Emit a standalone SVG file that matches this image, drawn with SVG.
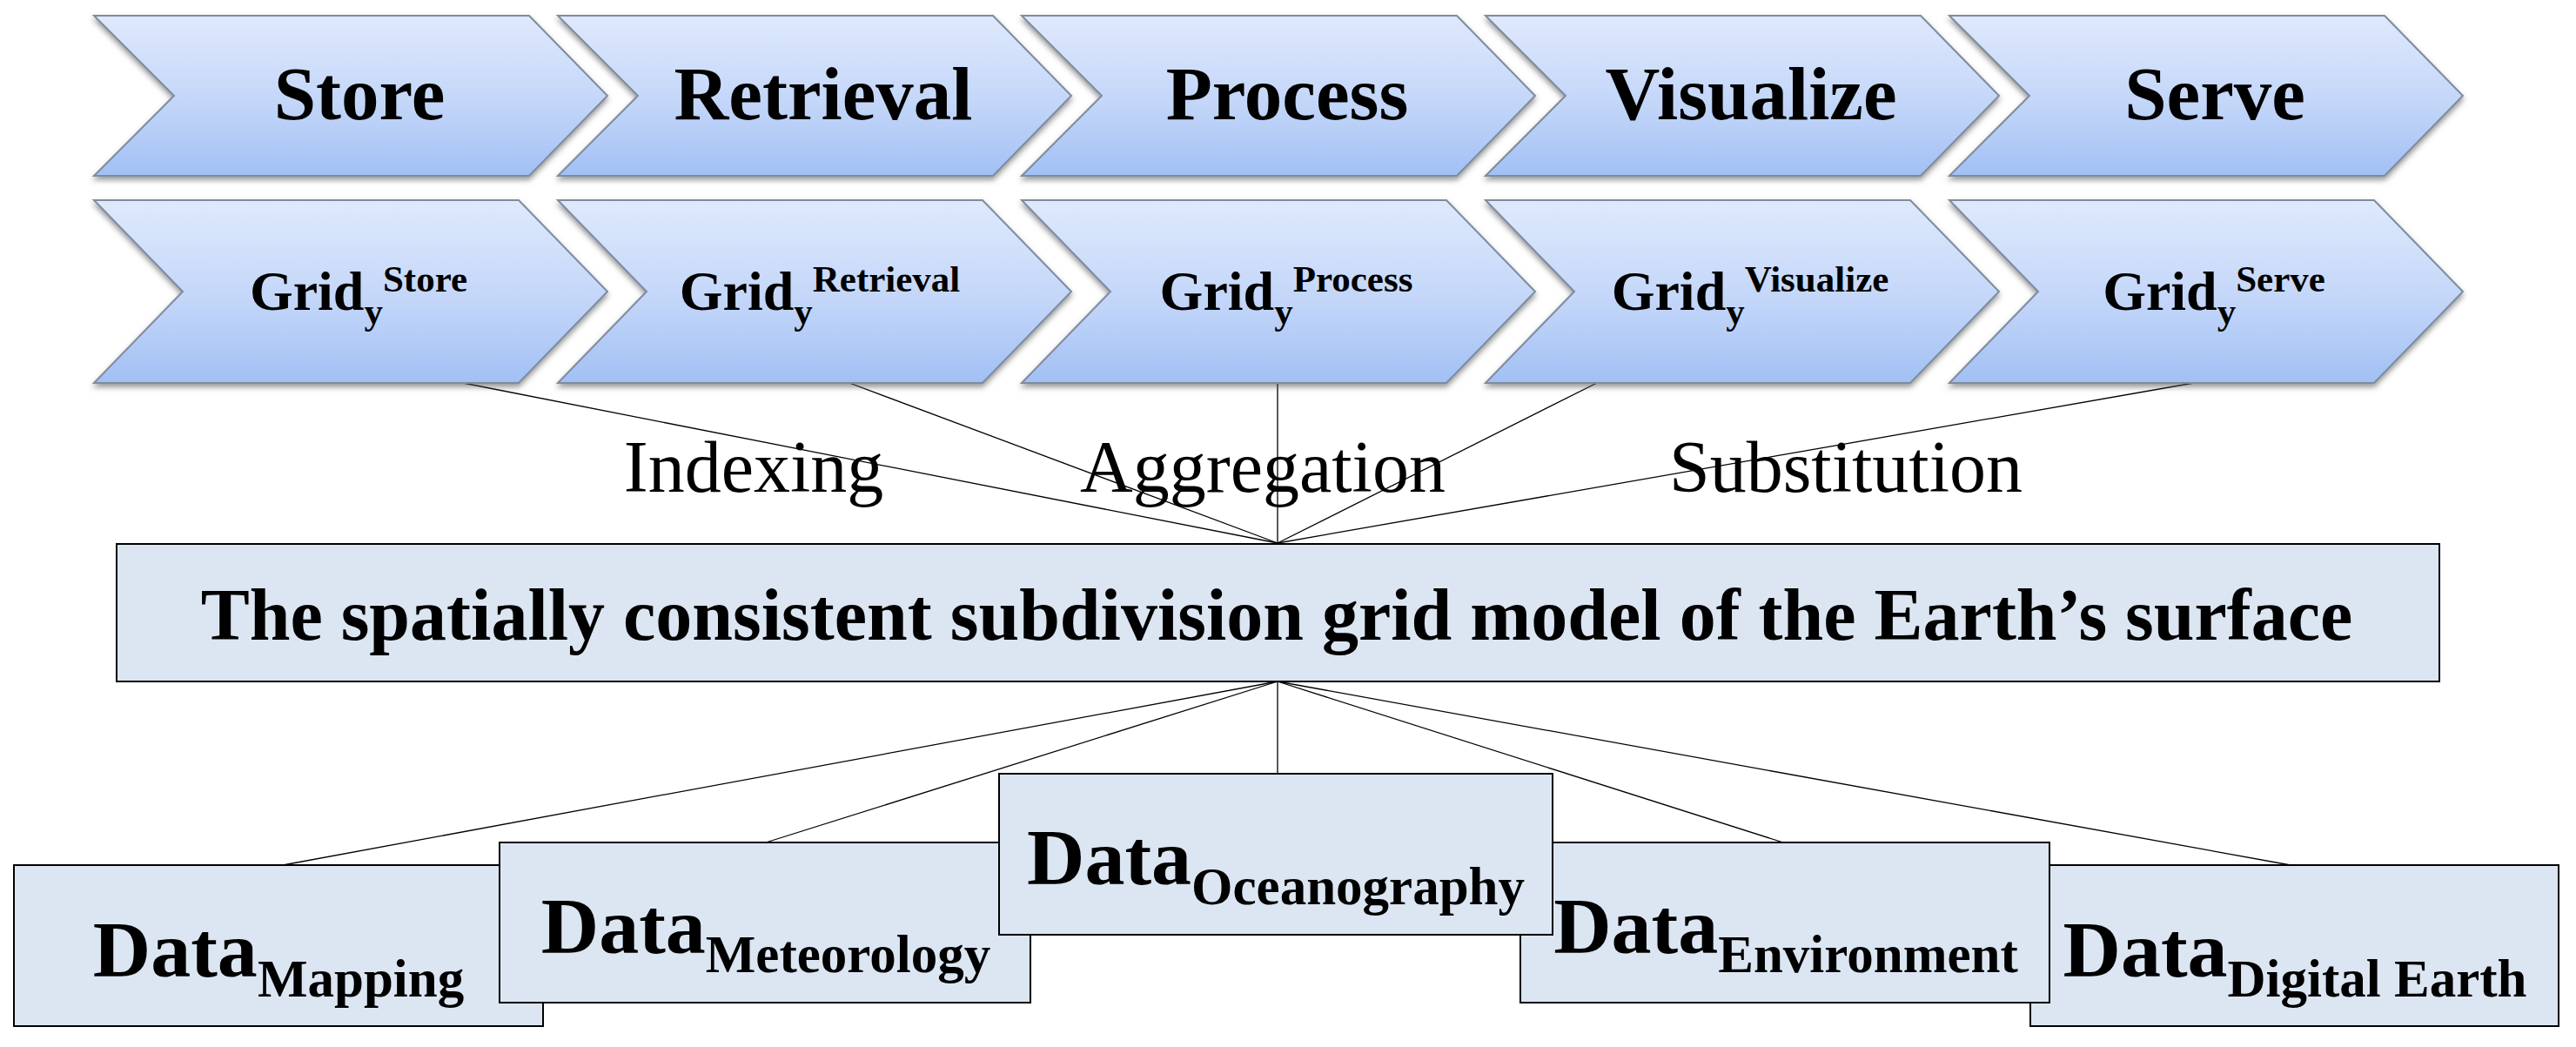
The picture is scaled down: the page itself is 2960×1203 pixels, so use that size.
<svg xmlns="http://www.w3.org/2000/svg" width="2960" height="1203" viewBox="0 0 2960 1203">
<defs>
<linearGradient id="chevFill" x1="0" y1="0" x2="0" y2="1">
<stop offset="0" stop-color="#DFE9FC"/>
<stop offset="0.55" stop-color="#C3D6F9"/>
<stop offset="1" stop-color="#A2C0F4"/>
</linearGradient>
<filter id="shadow" x="-5%" y="-10%" width="110%" height="130%">
<feDropShadow dx="0" dy="4" stdDeviation="3" flood-color="#555" flood-opacity="0.6"/>
</filter>
<style>
.chev{fill:url(#chevFill);stroke:#7E8CA0;stroke-width:2;filter:url(#shadow);}
.box{fill:#DCE6F2;stroke:#000;stroke-width:2;}
.conn line{stroke:#000;stroke-width:1.3;}
text{font-family:"Liberation Serif","Times New Roman",serif;fill:#000;}
.title{font-size:87px;font-weight:bold;text-anchor:middle;}
.grid{font-size:64px;font-weight:bold;text-anchor:middle;}
.sm{font-size:43px;}
.lbl{font-size:84px;text-anchor:middle;}
.main{font-size:84px;font-weight:bold;text-anchor:middle;}
.data{font-size:92px;font-weight:bold;text-anchor:middle;}
.sub{font-size:61px;}
</style>
</defs>
<rect width="2960" height="1203" fill="#fff"/>

<g id="connectors" class="conn">
<line x1="532" y1="440" x2="1468" y2="624"/>
<line x1="976" y1="440" x2="1468" y2="624"/>
<line x1="1468" y1="440" x2="1468" y2="624"/>
<line x1="1835" y1="440" x2="1468" y2="624"/>
<line x1="2521" y1="440" x2="1468" y2="624"/>
<line x1="1468" y1="783" x2="325" y2="994"/>
<line x1="1468" y1="783" x2="880" y2="968"/>
<line x1="1468" y1="783" x2="1468" y2="889"/>
<line x1="1468" y1="783" x2="2049" y2="968"/>
<line x1="1468" y1="783" x2="2632" y2="994"/>
</g>

<g id="stage-store">
<polygon class="chev" points="108,18 608,18 698,110 608,202 108,202 200,110"/>
<text class="title" x="413" y="137">Store</text>
</g>
<g id="stage-retrieval">
<polygon class="chev" points="641,18 1141,18 1231,110 1141,202 641,202 733,110"/>
<text class="title" x="946" y="137">Retrieval</text>
</g>
<g id="stage-process">
<polygon class="chev" points="1174,18 1674,18 1764,110 1674,202 1174,202 1266,110"/>
<text class="title" x="1479" y="137">Process</text>
</g>
<g id="stage-visualize">
<polygon class="chev" points="1707,18 2207,18 2297,110 2207,202 1707,202 1799,110"/>
<text class="title" x="2012" y="137">Visualize</text>
</g>
<g id="stage-serve">
<polygon class="chev" points="2240,18 2740,18 2830,110 2740,202 2240,202 2332,110"/>
<text class="title" x="2545" y="137">Serve</text>
</g>

<g id="grid-store">
<polygon class="chev" points="108,230 596,230 698,335 596,440 108,440 210,335"/>
<text class="grid" x="412" y="356">Grid<tspan class="sm" dy="16">y</tspan><tspan class="sm" dy="-37">Store</tspan></text>
</g>
<g id="grid-retrieval">
<polygon class="chev" points="641,230 1129,230 1231,335 1129,440 641,440 743,335"/>
<text class="grid" x="942" y="356">Grid<tspan class="sm" dy="16">y</tspan><tspan class="sm" dy="-37">Retrieval</tspan></text>
</g>
<g id="grid-process">
<polygon class="chev" points="1174,230 1662,230 1764,335 1662,440 1174,440 1276,335"/>
<text class="grid" x="1478" y="356">Grid<tspan class="sm" dy="16">y</tspan><tspan class="sm" dy="-37">Process</tspan></text>
</g>
<g id="grid-visualize">
<polygon class="chev" points="1707,230 2195,230 2297,335 2195,440 1707,440 1809,335"/>
<text class="grid" x="2011" y="356">Grid<tspan class="sm" dy="16">y</tspan><tspan class="sm" dy="-37">Visualize</tspan></text>
</g>
<g id="grid-serve">
<polygon class="chev" points="2240,230 2728,230 2830,335 2728,440 2240,440 2342,335"/>
<text class="grid" x="2544" y="356">Grid<tspan class="sm" dy="16">y</tspan><tspan class="sm" dy="-37">Serve</tspan></text>
</g>

<g id="labels">
<text class="lbl" x="866" y="565">Indexing</text>
<text class="lbl" x="1451" y="565">Aggregation</text>
<text class="lbl" x="2121" y="565">Substitution</text>
</g>

<g id="grid-model">
<rect class="box" x="134" y="625" width="2669" height="158"/>
<text class="main" x="1467" y="735">The spatially consistent subdivision grid model of the Earth’s surface</text>
</g>

<g id="data-mapping">
<rect class="box" x="16" y="994" width="608" height="185"/>
<text class="data" x="320" y="1122">Data<tspan class="sub" dy="23">Mapping</tspan></text>
</g>
<g id="data-digital-earth">
<rect class="box" x="2333" y="994" width="607" height="185"/>
<text class="data" x="2637" y="1122">Data<tspan class="sub" dy="23">Digital Earth</tspan></text>
</g>
<g id="data-meteorology">
<rect class="box" x="574" y="968" width="610" height="184"/>
<text class="data" x="880" y="1095">Data<tspan class="sub" dy="22">Meteorology</tspan></text>
</g>
<g id="data-environment">
<rect class="box" x="1747" y="968" width="608" height="184"/>
<text class="data" x="2052" y="1095">Data<tspan class="sub" dy="22">Environment</tspan></text>
</g>
<g id="data-oceanography">
<rect class="box" x="1148" y="889" width="636" height="185"/>
<text class="data" x="1466" y="1016">Data<tspan class="sub" dy="23">Oceanography</tspan></text>
</g>
</svg>
